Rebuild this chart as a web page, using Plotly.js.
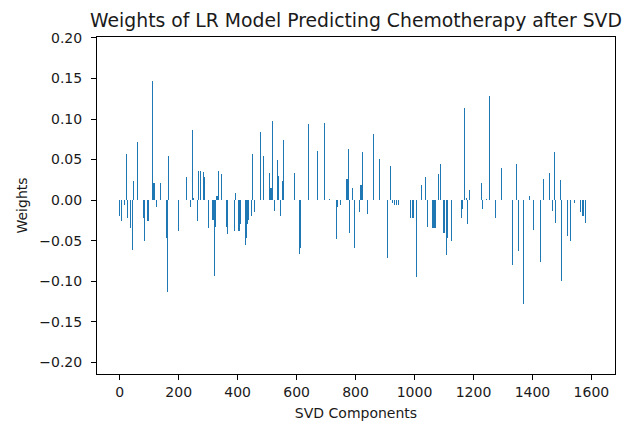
<!DOCTYPE html>
<html>
<head>
<meta charset="utf-8">
<script src="https://cdn.plot.ly/plotly-3.0.1.min.js"></script>
<style>
html,body{margin:0;padding:0;background:#fff;}
#chart{width:627px;height:424px;}
</style>
</head>
<body>
<div id="chart"></div>
<script>
var components = [0,6,16,22,27,37,43,48,60,80,85,96,110,114,117,126,137,158,163,166,200,225,241,246,250,263,268,
274,283,288,300,316,318,321,326,330,336,346,361,364,367,388,393,404,407,410,426,430,433,437,446,451,457,478,488,
509,512,514,519,525,535,539,545,551,556,593,609,611,614,640,671,693,713,734,737,739,750,769,771,776,781,791,797,
814,818,820,824,839,860,880,907,919,924,932,939,946,985,992,998,1007,1023,1037,1044,1062,1064,1067,1070,1080,1082,
1087,1100,1103,1107,1110,1113,1127,1159,1163,1170,1175,1180,1185,1226,1232,1243,1253,1275,1295,1332,1347,1352,
1370,1390,1404,1427,1436,1457,1467,1474,1478,1494,1500,1520,1530,1541,1562,1571,1573,1579];
var weights = [-0.019,-0.026,-0.006,0.057,-0.022,-0.034,-0.061,0.023,0.072,-0.022,-0.051,-0.026,0.147,0.021,0.021,-0.008,0.021,-0.047,-0.113,0.055,-0.038,0.028,-0.009,0.086,0.002,-0.026,0.036,
0.036,0.035,0.028,-0.034,-0.024,-0.024,-0.093,-0.033,0.005,0.036,0.032,-0.033,-0.033,-0.042,-0.038,0.009,-0.038,-0.038,-0.030,-0.055,-0.047,-0.030,-0.024,-0.019,0.057,-0.015,0.084,0.055,
0.034,0.015,0.015,0.097,-0.013,0.050,0.030,-0.019,0.023,0.074,0.034,-0.067,-0.059,-0.059,0.094,0.061,0.095,0.001,-0.048,-0.009,-0.009,-0.006,0.026,0.026,0.063,-0.040,0.015,-0.059,
-0.015,0.019,0.019,0.059,-0.017,0.081,0.051,-0.072,0.042,-0.003,-0.006,-0.006,-0.006,-0.022,-0.022,-0.022,-0.095,0.019,0.028,-0.033,-0.034,-0.034,-0.034,-0.034,0.032,0.032,
0.044,-0.040,-0.040,-0.068,-0.047,-0.047,-0.050,-0.022,-0.011,0.114,0.003,-0.030,0.012,0.021,-0.011,0.001,0.128,-0.022,0.040,-0.080,0.044,-0.063,
-0.128,0.005,-0.037,-0.076,0.026,0.034,-0.013,0.059,-0.028,0.025,-0.100,-0.044,-0.051,-0.004,-0.015,-0.019,-0.019,-0.028];
var xTicks = [0,200,400,600,800,1000,1200,1400,1600];
var yTicks = [-0.20,-0.15,-0.10,-0.05,0.00,0.05,0.10,0.15,0.20];

var font = "DejaVu Sans, sans-serif";
var ink = '#1a1a1a';
var trace = {
  type: 'bar',
  x: components,
  y: weights,
  width: 3.5,
  marker: {color: '#1f77b4', line: {width: 0}},
  hoverinfo: 'x+y'
};
var layout = {
  width: 627, height: 424,
  margin: {l: 97, r: 12, t: 37, b: 50, pad: 0},
  paper_bgcolor: '#fff', plot_bgcolor: '#fff',
  showlegend: false,
  bargap: 0,
  font: {family: font, size: 14, color: ink},
  title: {text: 'Weights of LR Model Predicting Chemotherapy after SVD',
          font: {family: font, size: 18.8, color: ink},
          x: 0.5, xanchor: 'center', xref: 'paper',
          y: 1 - 20/424, yanchor: 'middle'},
  xaxis: {
    range: [-77, 1680], tickvals: xTicks, ticktext: xTicks.map(String),
    showgrid: false, zeroline: false,
    showline: true, linecolor: '#000', linewidth: 1, mirror: true,
    ticks: 'outside', ticklen: 5, tickwidth: 1, tickcolor: '#000',
    tickfont: {family: font, size: 14, color: ink},
    title: {text: 'SVD Components', font: {family: font, size: 14, color: ink}, standoff: 9}
  },
  yaxis: {
    range: [-0.2145, 0.2012], tickvals: yTicks, tickformat: '.2f',
    showgrid: false, zeroline: false,
    showline: true, linecolor: '#000', linewidth: 1, mirror: true,
    ticks: 'outside', ticklen: 5, tickwidth: 1, tickcolor: '#000',
    ticklabelstandoff: 6,
    tickfont: {family: font, size: 14, color: ink},
    title: {text: 'Weights', font: {family: font, size: 14, color: ink}, standoff: 8}
  }
};
Plotly.newPlot('chart', [trace], layout, {displayModeBar: false, staticPlot: true});
</script>
</body>
</html>
